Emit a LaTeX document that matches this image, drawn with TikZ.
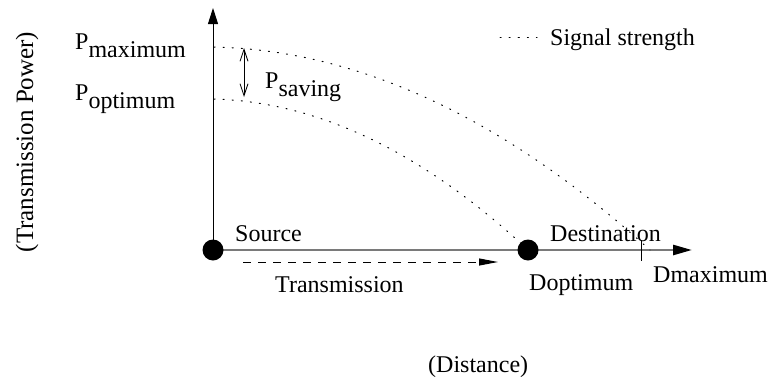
\documentclass[tikz,border=0pt]{standalone}
\usepackage{fontspec}
\setmainfont{Liberation Serif}
\usetikzlibrary{arrows.meta}
\definecolor{axisgray}{HTML}{7A7A7A}
\tikzset{
  lbl/.style={anchor=base west, inner sep=0pt, font=\fontsize{24}{29}\selectfont},
  ptdot/.style={circle, fill=black, inner sep=0pt, minimum size=21pt},
  sigcurve/.style={line width=1pt, dash pattern=on 1.1pt off 8pt, line cap=round},
}
\begin{document}
\begin{tikzpicture}[x=1pt,y=-1pt]
\useasboundingbox (0,0) rectangle (771,378);
% coordinates
\coordinate (S) at (213,250);
\coordinate (O) at (528,250);
\coordinate (ytop) at (213,8);
\coordinate (xtip) at (692,250);
\coordinate (dmax) at (641,250);
\coordinate (cend) at (650,250);
\coordinate (pmax) at (214,47);
\coordinate (popt) at (214,99);
\coordinate (sv1) at (244,48);
\coordinate (sv2) at (244,97);
\coordinate (lg1) at (500,37);
\coordinate (lg2) at (537,37);
\coordinate (tr1) at (243,262);
\coordinate (tr2) at (498,262);
% axes
\draw[line width=1pt, -{Triangle[length=16pt,width=10pt]}] (S) -- (ytop);
\draw[axisgray, line width=2.6pt, -{Triangle[length=19pt,width=10pt,color=black]}] (S) -- (xtip);
\draw[line width=1pt] ([yshift=10pt]dmax) -- ([yshift=-11pt]dmax);
% signal curves
\draw[sigcurve] (pmax) .. controls (358.7,50.3) and (504.3,118) .. (cend);
\draw[sigcurve] (popt) .. controls (318,102) and (423,152) .. (O);
% saving arrow
\draw[line width=0.8pt, {Straight Barb[length=12pt,width=8pt]}-{Straight Barb[length=12pt,width=8pt]}] (sv1) -- (sv2);
% legend
\draw[sigcurve] (lg1) -- (lg2);
% transmission arrow
\draw[line width=1pt, dash pattern=on 8pt off 7pt, -{Triangle[length=19pt,width=7pt]}] (tr1) -- (tr2);
% dots
\node[ptdot] (src) at (S) {};
\node[ptdot] (dopt) at (O) {};
% labels
\node[lbl] (lpmax) at (75,49) {P\raisebox{-8pt}{maximum}};
\node[lbl] (lpopt) at (75,100) {P\raisebox{-8pt}{optimum}};
\node[lbl] (lpsav) at (265,88) {P\raisebox{-8pt}{saving}};
\node[lbl] (lsig) at (550,45) {Signal strength};
\node[lbl] (lsrc) at (235,241) {Source};
\node[lbl] (ldst) at (550,241) {Destination};
\node[lbl] (ltr) at (275,292) {Transmission};
\node[lbl] (ldopt) at (529,290) {Doptimum};
\node[lbl] (ldmax) at (653,282) {Dmaximum};
\node[lbl] (ldist) at (428,372) {(Distance)};
\node[inner sep=0pt, rotate=90, font=\fontsize{25}{30}\selectfont] (lpow) at (27,142) {(Transmission Power)};
\end{tikzpicture}
\end{document}
